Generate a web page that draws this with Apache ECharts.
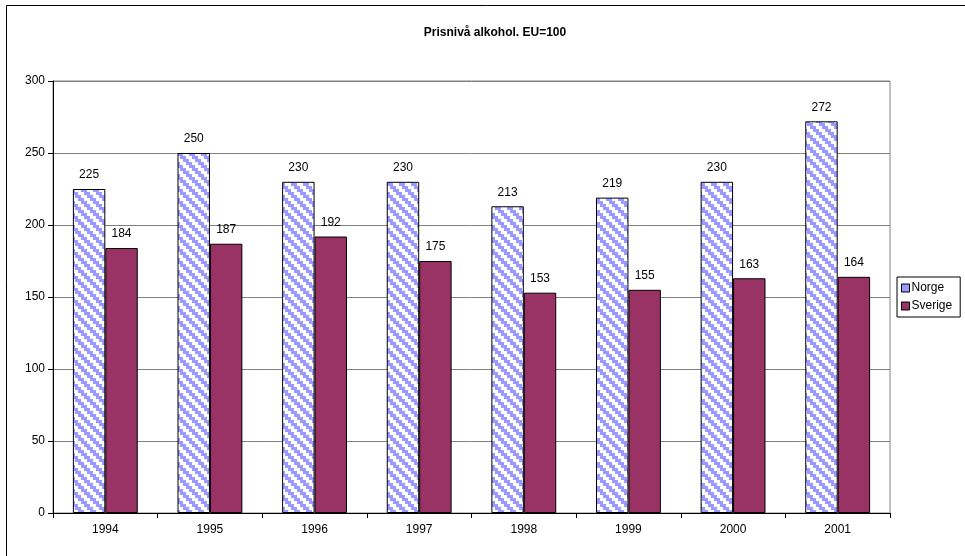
<!DOCTYPE html>
<html>
<head>
<meta charset="utf-8">
<script src="https://cdn.jsdelivr.net/npm/echarts@6/dist/echarts.min.js"></script>
<style>
  html, body { margin: 0; padding: 0; background: #fff; }
  #chart { width: 965px; height: 556px; }
</style>
</head>
<body>
<div id="chart"></div>
<script>
// data
const years = ["1994", "1995", "1996", "1997", "1998", "1999", "2000", "2001"];
const norge = [225, 250, 230, 230, 213, 219, 230, 272];
const sverige = [184, 187, 192, 175, 153, 155, 163, 164];
const yTicks = [0, 50, 100, 150, 200, 250, 300];

const FONT = "Liberation Sans, Arial, sans-serif";

// diagonal stair-step stripes for Norge
function makeStripes() {
    const size = 12;
    const c = document.createElement("canvas");
    c.width = size;
    c.height = size;
    const ctx = c.getContext("2d");
    ctx.fillStyle = "#ffffff";
    ctx.fillRect(0, 0, size, size);
    ctx.fillStyle = "#9999ff";
    for (let y = 0; y < size; y++) {
        for (let x = 0; x < size; x++) {
            const d = ((Math.floor(x / 3) - Math.floor(y / 3)) % 4 + 4) % 4;
            if (d < 2) ctx.fillRect(x, y, 1, 1);
        }
    }
    return c;
}

const chart = echarts.init(document.getElementById("chart"));
const labelStyle = {
    show: true,
    position: "top",
    distance: 8,
    color: "#000",
    fontFamily: FONT,
    fontSize: 12,
};

chart.setOption({
    animation: false,
    title: {
        text: "Prisnivå alkohol. EU=100",
        left: 490,
        textAlign: "center",
        top: 22,
        textStyle: {
            fontFamily: FONT,
            fontSize: 12,
            fontWeight: "bold",
            color: "#000",
        },
    },
    graphic: [
        {
            type: "rect",
            shape: { x: 6.5, y: 5.5, width: 1000, height: 600 },
            style: { fill: "none", stroke: "#000", lineWidth: 1 },
            silent: true,
        },
    ],
    legend: {
        orient: "vertical",
        left: 897,
        top: 277,
        padding: [5, 8, 5, 4],
        itemGap: 6,
        itemWidth: 8,
        itemHeight: 8,
        borderColor: "#000",
        borderWidth: 1,
        icon: "rect",
        textStyle: {
            fontFamily: FONT,
            fontSize: 12,
            color: "#000",
            padding: [0, 0, 0, -3],
        },
        data: [
            { name: "Norge", itemStyle: { color: "#9999ff", borderColor: "#000", borderWidth: 1 } },
            { name: "Sverige", itemStyle: { color: "#993366", borderColor: "#000", borderWidth: 1 } },
        ],
    },
    grid: {
        left: 53,
        top: 81,
        width: 837,
        height: 432,
        show: true,
        backgroundColor: "#fff",
        borderColor: "#808080",
        borderWidth: 1,
    },
    xAxis: {
        type: "category",
        data: years,
        axisLine: { lineStyle: { color: "#000" } },
        axisTick: { show: true, length: 5, lineStyle: { color: "#000" } },
        axisLabel: {
            color: "#000",
            margin: 11,
            fontFamily: FONT,
            fontSize: 12,
        },
    },
    yAxis: {
        type: "value",
        min: yTicks[0],
        max: yTicks[yTicks.length - 1],
        interval: 50,
        axisLine: { show: true, lineStyle: { color: "#000" } },
        axisTick: { show: true, length: 5, lineStyle: { color: "#000" } },
        axisLabel: {
            color: "#000",
            margin: 8,
            fontFamily: FONT,
            fontSize: 12,
        },
        splitLine: { lineStyle: { color: "#808080", width: 1 } },
    },
    series: [
        {
            name: "Norge",
            type: "bar",
            data: norge,
            barGap: "0%",
            barCategoryGap: "38%",
            itemStyle: {
                color: { image: makeStripes(), repeat: "repeat" },
                borderColor: "#000",
                borderWidth: 1,
            },
            label: labelStyle,
        },
        {
            name: "Sverige",
            type: "bar",
            data: sverige,
            itemStyle: {
                color: "#993366",
                borderColor: "#000",
                borderWidth: 1,
            },
            label: labelStyle,
        },
    ],
});
</script>
</body>
</html>
